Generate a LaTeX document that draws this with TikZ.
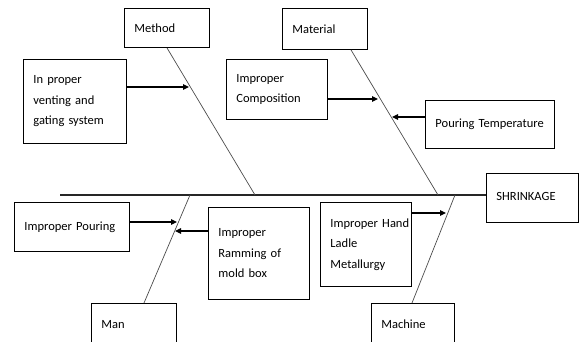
\documentclass[tikz,border=0pt]{standalone}
\usepackage{fontspec}
\setmainfont{Carlito}
\usetikzlibrary{arrows.meta}
\hyphenpenalty=10000
\hbadness=10000
\hfuzz=40pt
\begin{document}
\begin{tikzpicture}[x=1pt,y=-1pt,
  box/.style={draw, line width=0.9pt, rectangle, align=left, anchor=north west,
    inner xsep=10pt, inner ysep=0pt,
    font=\fontsize{12.5}{20.5}\selectfont},
  spine/.style={draw=black!70, line width=0.7pt},
  backbone/.style={draw=black!85, line width=2.4pt},
  cause/.style={draw, line width=1.2pt, -{Triangle[length=6pt,width=5.5pt]}}]
\useasboundingbox (0,0) rectangle (581,341);

% category boxes
\node[box, text width=65pt, minimum height=39pt] (method) at (124,8) {Method};
\node[box, text width=65pt, minimum height=41pt] (material) at (282,8) {Material};
\node[box, text width=65pt, minimum height=42pt] (man) at (91,303) {Man};
\node[box, text width=63pt, minimum height=42pt] (machine) at (371,303) {Machine};

% effect
\node[box, text width=72pt, minimum height=49pt] (effect) at (486,173) {\raisebox{4pt}{SHRINKAGE}};

% causes
\node[box, text width=83pt, minimum height=84pt] (venting) at (23,59) {In proper\\venting and\\gating system};
\node[box, text width=81pt, minimum height=60pt] (compo) at (226,59) {Improper\\Composition};
\node[box, text width=109pt, minimum height=48pt] (temp) at (425,100) {Pouring~Temperature};
\node[box, text width=95pt, minimum height=49pt] (pouring) at (14,202) {Improper~Pouring};
\node[box, text width=81pt, minimum height=92pt] (ramming) at (208,207) {Improper\\Ramming~of\\mold box};
\node[box, text width=71pt, minimum height=84pt] (ladle) at (320,202) {Improper~Hand\\Ladle\\Metallurgy};

% backbone
\coordinate (tail) at (60,195);
\path[backbone] (tail) -- (tail -| effect.west);

% bones meeting the backbone
\coordinate (methodfoot) at (255,195);
\coordinate (materialfoot) at (438,195);
\coordinate (manfoot) at (190,195);
\coordinate (machinefoot) at (455,195);
\path[spine] (method.south -| 167,0) -- (methodfoot);
\path[spine] (material.south -| 351,0) -- (materialfoot);
\path[spine] (man.north -| 144,0) -- (manfoot);
\path[spine] (machine.north -| 412,0) -- (machinefoot);

% arrow tips on the bones
\coordinate (tventing) at (189,87);
\coordinate (tcompo) at (378,99);
\coordinate (ttemp) at (392,117);
\coordinate (tpouring) at (177,222);
\coordinate (tramming) at (175,231);
\coordinate (tladle) at (446,213);

\draw[cause] (tventing -| venting.east) -- (tventing);
\draw[cause] (tcompo -| compo.east) -- (tcompo);
\draw[cause] (ttemp -| temp.west) -- (ttemp);
\draw[cause] (tpouring -| pouring.east) -- (tpouring);
\draw[cause] (tramming -| ramming.west) -- (tramming);
\draw[cause] (tladle -| ladle.east) -- (tladle);
\end{tikzpicture}
\end{document}
